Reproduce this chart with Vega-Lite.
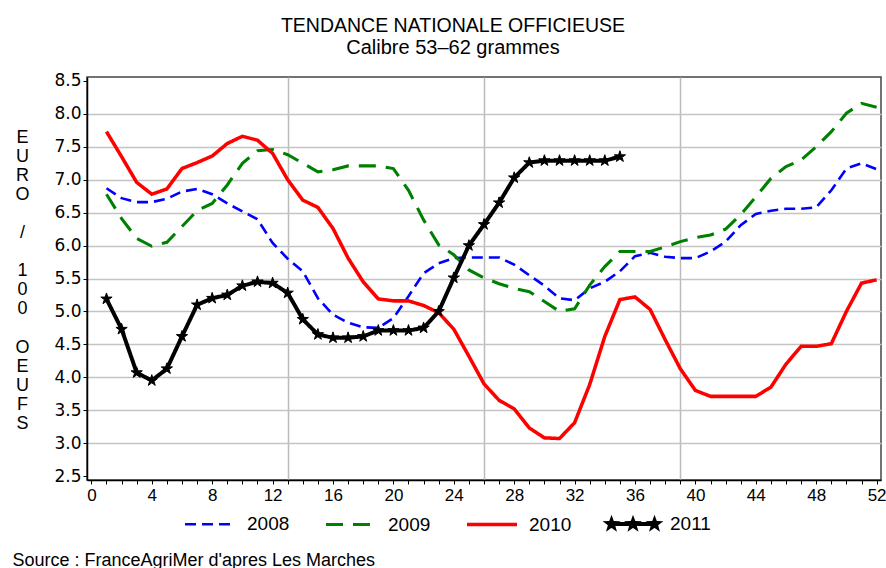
{
  "$schema": "https://vega.github.io/schema/vega-lite/v6.json",
  "width": 794,
  "height": 403,
  "autosize": "none",
  "padding": {"left": 87, "top": 77, "right": 5, "bottom": 88},
  "background": "white",
  "title": {
    "text": "TENDANCE NATIONALE OFFICIEUSE",
    "subtitle": "Calibre 53–62 grammes",
    "anchor": "middle",
    "frame": "group",
    "dx": -31,
    "offset": 13,
    "font": "Liberation Sans",
    "fontSize": 19.5,
    "fontWeight": "normal",
    "color": "#000000",
    "subtitleFont": "Liberation Sans",
    "subtitleFontSize": 20,
    "subtitleColor": "#000000",
    "subtitlePadding": 1
  },
  "config": {
    "view": {"stroke": "#444444", "strokeWidth": 1.5},
    "axis": {"domainColor": "#000000", "domainWidth": 1.5, "tickColor": "#000000", "labelColor": "#000000"}
  },
  "resolve": {"axis": {"x": "independent", "y": "independent"}},
  "data": {
    "values": [
      {"week": 1, "year": "2008", "price": 6.87}, {"week": 2, "year": "2008", "price": 6.72}, {"week": 3, "year": "2008", "price": 6.66}, {"week": 4, "year": "2008", "price": 6.66},
      {"week": 5, "year": "2008", "price": 6.71}, {"week": 6, "year": "2008", "price": 6.82}, {"week": 7, "year": "2008", "price": 6.86}, {"week": 8, "year": "2008", "price": 6.78},
      {"week": 9, "year": "2008", "price": 6.64}, {"week": 10, "year": "2008", "price": 6.52}, {"week": 11, "year": "2008", "price": 6.40}, {"week": 12, "year": "2008", "price": 6.04},
      {"week": 13, "year": "2008", "price": 5.80}, {"week": 14, "year": "2008", "price": 5.61}, {"week": 15, "year": "2008", "price": 5.20}, {"week": 16, "year": "2008", "price": 4.95},
      {"week": 17, "year": "2008", "price": 4.83}, {"week": 18, "year": "2008", "price": 4.76}, {"week": 19, "year": "2008", "price": 4.75}, {"week": 20, "year": "2008", "price": 4.90},
      {"week": 21, "year": "2008", "price": 5.23}, {"week": 22, "year": "2008", "price": 5.58}, {"week": 23, "year": "2008", "price": 5.73}, {"week": 24, "year": "2008", "price": 5.81},
      {"week": 25, "year": "2008", "price": 5.82}, {"week": 26, "year": "2008", "price": 5.82}, {"week": 27, "year": "2008", "price": 5.82}, {"week": 28, "year": "2008", "price": 5.71},
      {"week": 29, "year": "2008", "price": 5.55}, {"week": 30, "year": "2008", "price": 5.39}, {"week": 31, "year": "2008", "price": 5.20}, {"week": 32, "year": "2008", "price": 5.17},
      {"week": 33, "year": "2008", "price": 5.35}, {"week": 34, "year": "2008", "price": 5.45}, {"week": 35, "year": "2008", "price": 5.61}, {"week": 36, "year": "2008", "price": 5.84},
      {"week": 37, "year": "2008", "price": 5.89}, {"week": 38, "year": "2008", "price": 5.83}, {"week": 39, "year": "2008", "price": 5.81}, {"week": 40, "year": "2008", "price": 5.81},
      {"week": 41, "year": "2008", "price": 5.91}, {"week": 42, "year": "2008", "price": 6.06}, {"week": 43, "year": "2008", "price": 6.31}, {"week": 44, "year": "2008", "price": 6.48},
      {"week": 45, "year": "2008", "price": 6.53}, {"week": 46, "year": "2008", "price": 6.56}, {"week": 47, "year": "2008", "price": 6.56}, {"week": 48, "year": "2008", "price": 6.58},
      {"week": 49, "year": "2008", "price": 6.84}, {"week": 50, "year": "2008", "price": 7.17}, {"week": 51, "year": "2008", "price": 7.25}, {"week": 52, "year": "2008", "price": 7.16},

      {"week": 1, "year": "2009", "price": 6.78}, {"week": 2, "year": "2009", "price": 6.41}, {"week": 3, "year": "2009", "price": 6.11}, {"week": 4, "year": "2009", "price": 5.99},
      {"week": 5, "year": "2009", "price": 6.05}, {"week": 6, "year": "2009", "price": 6.29}, {"week": 7, "year": "2009", "price": 6.53}, {"week": 8, "year": "2009", "price": 6.64},
      {"week": 9, "year": "2009", "price": 6.92}, {"week": 10, "year": "2009", "price": 7.25}, {"week": 11, "year": "2009", "price": 7.44}, {"week": 12, "year": "2009", "price": 7.46},
      {"week": 13, "year": "2009", "price": 7.38}, {"week": 14, "year": "2009", "price": 7.25}, {"week": 15, "year": "2009", "price": 7.12}, {"week": 16, "year": "2009", "price": 7.15},
      {"week": 17, "year": "2009", "price": 7.21}, {"week": 18, "year": "2009", "price": 7.21}, {"week": 19, "year": "2009", "price": 7.21}, {"week": 20, "year": "2009", "price": 7.17},
      {"week": 21, "year": "2009", "price": 6.84}, {"week": 22, "year": "2009", "price": 6.39}, {"week": 23, "year": "2009", "price": 6.01}, {"week": 24, "year": "2009", "price": 5.86},
      {"week": 25, "year": "2009", "price": 5.63}, {"week": 26, "year": "2009", "price": 5.51}, {"week": 27, "year": "2009", "price": 5.42}, {"week": 28, "year": "2009", "price": 5.35},
      {"week": 29, "year": "2009", "price": 5.30}, {"week": 30, "year": "2009", "price": 5.15}, {"week": 31, "year": "2009", "price": 5.00}, {"week": 32, "year": "2009", "price": 5.04},
      {"week": 33, "year": "2009", "price": 5.40}, {"week": 34, "year": "2009", "price": 5.68}, {"week": 35, "year": "2009", "price": 5.91}, {"week": 36, "year": "2009", "price": 5.91},
      {"week": 37, "year": "2009", "price": 5.91}, {"week": 38, "year": "2009", "price": 5.98}, {"week": 39, "year": "2009", "price": 6.06}, {"week": 40, "year": "2009", "price": 6.12},
      {"week": 41, "year": "2009", "price": 6.16}, {"week": 42, "year": "2009", "price": 6.25}, {"week": 43, "year": "2009", "price": 6.47}, {"week": 44, "year": "2009", "price": 6.74},
      {"week": 45, "year": "2009", "price": 7.02}, {"week": 46, "year": "2009", "price": 7.20}, {"week": 47, "year": "2009", "price": 7.30}, {"week": 48, "year": "2009", "price": 7.50},
      {"week": 49, "year": "2009", "price": 7.73}, {"week": 50, "year": "2009", "price": 8.01}, {"week": 51, "year": "2009", "price": 8.16}, {"week": 52, "year": "2009", "price": 8.10},

      {"week": 1, "year": "2010", "price": 7.73}, {"week": 2, "year": "2010", "price": 7.35}, {"week": 3, "year": "2010", "price": 6.96}, {"week": 4, "year": "2010", "price": 6.78},
      {"week": 5, "year": "2010", "price": 6.86}, {"week": 6, "year": "2010", "price": 7.17}, {"week": 7, "year": "2010", "price": 7.26}, {"week": 8, "year": "2010", "price": 7.36},
      {"week": 9, "year": "2010", "price": 7.55}, {"week": 10, "year": "2010", "price": 7.66}, {"week": 11, "year": "2010", "price": 7.60}, {"week": 12, "year": "2010", "price": 7.40},
      {"week": 13, "year": "2010", "price": 7.00}, {"week": 14, "year": "2010", "price": 6.69}, {"week": 15, "year": "2010", "price": 6.58}, {"week": 16, "year": "2010", "price": 6.26},
      {"week": 17, "year": "2010", "price": 5.81}, {"week": 18, "year": "2010", "price": 5.45}, {"week": 19, "year": "2010", "price": 5.19}, {"week": 20, "year": "2010", "price": 5.16},
      {"week": 21, "year": "2010", "price": 5.16}, {"week": 22, "year": "2010", "price": 5.09}, {"week": 23, "year": "2010", "price": 4.98}, {"week": 24, "year": "2010", "price": 4.73},
      {"week": 25, "year": "2010", "price": 4.32}, {"week": 26, "year": "2010", "price": 3.90}, {"week": 27, "year": "2010", "price": 3.65}, {"week": 28, "year": "2010", "price": 3.52},
      {"week": 29, "year": "2010", "price": 3.23}, {"week": 30, "year": "2010", "price": 3.08}, {"week": 31, "year": "2010", "price": 3.07}, {"week": 32, "year": "2010", "price": 3.31},
      {"week": 33, "year": "2010", "price": 3.89}, {"week": 34, "year": "2010", "price": 4.62}, {"week": 35, "year": "2010", "price": 5.18}, {"week": 36, "year": "2010", "price": 5.22},
      {"week": 37, "year": "2010", "price": 5.03}, {"week": 38, "year": "2010", "price": 4.57}, {"week": 39, "year": "2010", "price": 4.13}, {"week": 40, "year": "2010", "price": 3.80},
      {"week": 41, "year": "2010", "price": 3.71}, {"week": 42, "year": "2010", "price": 3.71}, {"week": 43, "year": "2010", "price": 3.71}, {"week": 44, "year": "2010", "price": 3.71},
      {"week": 45, "year": "2010", "price": 3.85}, {"week": 46, "year": "2010", "price": 4.20}, {"week": 47, "year": "2010", "price": 4.47}, {"week": 48, "year": "2010", "price": 4.47},
      {"week": 49, "year": "2010", "price": 4.51}, {"week": 50, "year": "2010", "price": 5.00}, {"week": 51, "year": "2010", "price": 5.43}, {"week": 52, "year": "2010", "price": 5.48},

      {"week": 1, "year": "2011", "price": 5.19}, {"week": 2, "year": "2011", "price": 4.73}, {"week": 3, "year": "2011", "price": 4.07}, {"week": 4, "year": "2011", "price": 3.95},
      {"week": 5, "year": "2011", "price": 4.13}, {"week": 6, "year": "2011", "price": 4.62}, {"week": 7, "year": "2011", "price": 5.10}, {"week": 8, "year": "2011", "price": 5.20},
      {"week": 9, "year": "2011", "price": 5.25}, {"week": 10, "year": "2011", "price": 5.39}, {"week": 11, "year": "2011", "price": 5.45}, {"week": 12, "year": "2011", "price": 5.43},
      {"week": 13, "year": "2011", "price": 5.28}, {"week": 14, "year": "2011", "price": 4.88}, {"week": 15, "year": "2011", "price": 4.65}, {"week": 16, "year": "2011", "price": 4.60},
      {"week": 17, "year": "2011", "price": 4.60}, {"week": 18, "year": "2011", "price": 4.62}, {"week": 19, "year": "2011", "price": 4.71}, {"week": 20, "year": "2011", "price": 4.71},
      {"week": 21, "year": "2011", "price": 4.71}, {"week": 22, "year": "2011", "price": 4.75}, {"week": 23, "year": "2011", "price": 5.00}, {"week": 24, "year": "2011", "price": 5.51},
      {"week": 25, "year": "2011", "price": 6.00}, {"week": 26, "year": "2011", "price": 6.32}, {"week": 27, "year": "2011", "price": 6.65}, {"week": 28, "year": "2011", "price": 7.03},
      {"week": 29, "year": "2011", "price": 7.26}, {"week": 30, "year": "2011", "price": 7.29}, {"week": 31, "year": "2011", "price": 7.29}, {"week": 32, "year": "2011", "price": 7.29},
      {"week": 33, "year": "2011", "price": 7.29}, {"week": 34, "year": "2011", "price": 7.29}, {"week": 35, "year": "2011", "price": 7.35}
    ]
  },
  "layer": [
    {
      "mark": {"type": "line", "clip": false},
      "encoding": {
        "x": {
          "field": "week", "type": "quantitative",
          "scale": {"domain": [-0.29, 52.29], "nice": false, "zero": false},
          "axis": {
            "orient": "bottom",
            "values": [0,1,2,3,4,5,6,7,8,9,10,11,12,13,14,15,16,17,18,19,20,21,22,23,24,25,26,27,28,29,30,31,32,33,34,35,36,37,38,39,40,41,42,43,44,45,46,47,48,49,50,51,52],
            "labelExpr": "datum.value % 4 === 0 ? datum.label : ''",
            "labelOverlap": false,
            "labelFont": "Liberation Sans",
            "labelFontSize": 17,
            "labelPadding": 3,
            "tickSize": 4,
            "tickWidth": 1,
            "grid": false,
            "title": "Source : FranceAgriMer d'apres Les Marches",
            "titleFont": "Liberation Sans",
            "titleFontSize": 18,
            "titleFontWeight": "normal",
            "titleColor": "#000000",
            "titleAnchor": "start",
            "titleAlign": "left",
            "titleBaseline": "alphabetic",
            "titleX": -75,
            "titleY": 85
          }
        },
        "y": {
          "field": "price", "type": "quantitative",
          "scale": {"domain": [2.44, 8.56], "nice": false, "zero": false},
          "axis": {
            "orient": "left",
            "values": [2.5,3,3.5,4,4.5,5,5.5,6,6.5,7,7.5,8,8.5],
            "format": ".1f",
            "labelOverlap": false,
            "labelFont": "DejaVu Sans",
            "labelFontSize": 17,
            "labelPadding": 2,
            "tickSize": 4,
            "grid": false,
            "title": ["E","U","R","O","\u200b","/","\u200b","1","0","0","\u200b","O","E","U","F","S"],
            "titleAngle": 0,
            "titleX": -65,
            "titleY": 51,
            "titleAlign": "center",
            "titleBaseline": "top",
            "titleFont": "Liberation Sans",
            "titleFontSize": 18,
            "titleFontWeight": "normal",
            "titleLineHeight": 19.1,
            "titleColor": "#000000"
          }
        },
        "color": {
          "field": "year", "type": "nominal",
          "scale": {"domain": ["2008","2009","2010","2011"], "range": ["#0000ff","#008000","#ff0000","#000000"]},
          "legend": {
            "orient": "none",
            "legendX": 96,
            "legendY": 420,
            "direction": "horizontal",
            "columns": 4,
            "gridAlign": "all",
            "title": null,
            "padding": 0,
            "symbolSize": 2500,
            "symbolType": "stroke",
            "labelFont": "Liberation Sans",
            "labelFontSize": 19,
            "labelColor": "#000000",
            "labelOffset": 10,
            "columnPadding": 28,
            "encode": {
              "symbols": {
                "update": {
                  "shape": {"signal": "datum.value === '2011' ? 'M-1,0L1,0M-0.86,-0.14L-0.826,-0.046L-0.727,-0.043L-0.805,0.018L-0.778,0.113L-0.86,0.057L-0.942,0.113L-0.915,0.018L-0.993,-0.043L-0.894,-0.046ZM0,-0.14L0.034,-0.046L0.133,-0.043L0.055,0.018L0.082,0.113L0,0.057L-0.082,0.113L-0.055,0.018L-0.133,-0.043L-0.034,-0.046ZM0.86,-0.14L0.894,-0.046L0.993,-0.043L0.915,0.018L0.942,0.113L0.86,0.057L0.778,0.113L0.805,0.018L0.727,-0.043L0.826,-0.046Z' : 'stroke'"},
                  "fill": {"signal": "datum.value === '2011' ? '#000000' : 'transparent'"}
                }
              }
            }
          }
        },
        "strokeDash": {
          "field": "year", "type": "nominal",
          "scale": {"domain": ["2008","2009","2010","2011"], "range": [[11,6],[17,10],[1,0],[1,0]]}
        },
        "strokeWidth": {
          "field": "year", "type": "nominal",
          "scale": {"domain": ["2008","2009","2010","2011"], "range": [2.6,4,4.6,5]}
        }
      }
    },
    {
      "transform": [{"filter": "datum.year === '2011'"}],
      "mark": {
        "type": "point",
        "shape": "M0,-1L0.223,-0.307L0.951,-0.309L0.361,0.117L0.588,0.809L0,0.38L-0.588,0.809L-0.361,0.117L-0.951,-0.309L-0.223,-0.307Z",
        "filled": true,
        "size": 140,
        "color": "#000000",
        "opacity": 1,
        "stroke": "#000000",
        "strokeWidth": 1,
        "clip": false
      },
      "encoding": {
        "x": {
          "field": "week", "type": "quantitative",
          "axis": {
            "orient": "bottom",
            "values": [13, 26, 39],
            "grid": true,
            "gridColor": "#bbbbbb",
            "gridWidth": 1.5,
            "domain": false,
            "ticks": false,
            "labels": false,
            "title": null
          }
        },
        "y": {
          "field": "price", "type": "quantitative",
          "axis": {
            "orient": "left",
            "values": [3, 3.5, 4, 4.5, 5, 5.5, 6, 6.5, 7, 7.5, 8],
            "grid": true,
            "gridColor": "#c4c4c4",
            "gridWidth": 1.5,
            "domain": false,
            "ticks": false,
            "labels": false,
            "title": null
          }
        }
      }
    }
  ]
}
